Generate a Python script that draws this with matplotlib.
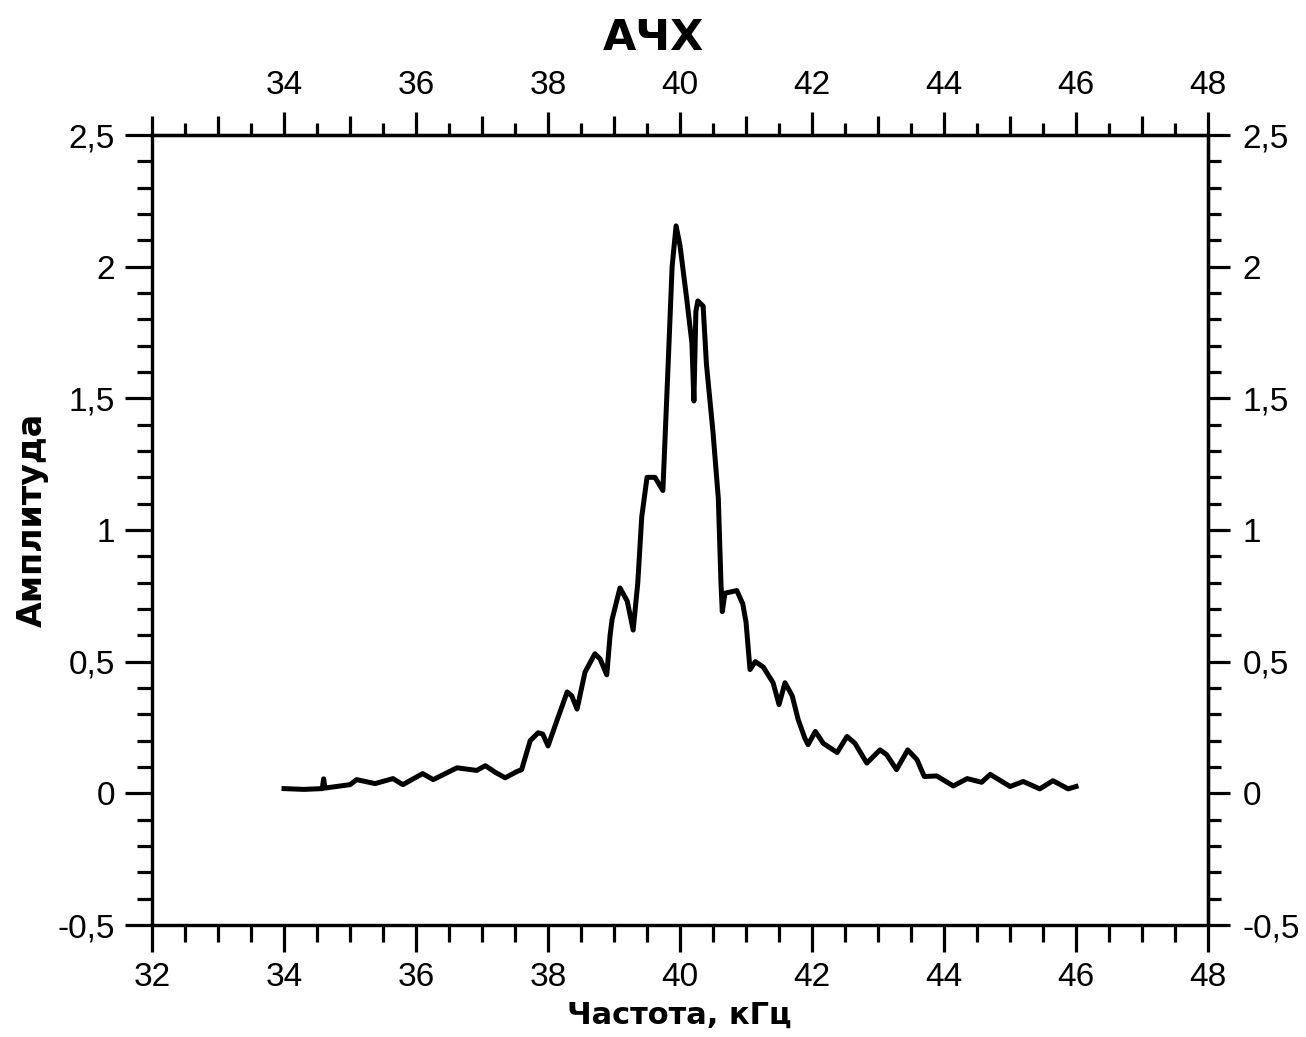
import matplotlib.pyplot as plt
from matplotlib.ticker import MultipleLocator, FixedLocator, FuncFormatter, NullFormatter

# frequency, kHz / amplitude
freq = [34.0, 34.3, 34.58, 34.6, 34.62, 35.0, 35.1, 35.38, 35.65, 35.8,
        36.1, 36.26, 36.62, 36.92, 37.05, 37.2, 37.35, 37.53, 37.6, 37.73,
        37.85, 37.92, 38.0, 38.14, 38.29, 38.36, 38.44, 38.56, 38.71, 38.79,
        38.89, 38.94, 38.97, 39.09, 39.2, 39.29, 39.36, 39.42, 39.5, 39.62,
        39.74, 39.82, 39.88, 39.94, 40.0, 40.1, 40.18, 40.21, 40.24, 40.27,
        40.35, 40.4, 40.5, 40.58, 40.62, 40.64, 40.68, 40.86, 40.95, 41.0,
        41.06, 41.14, 41.26, 41.41, 41.5, 41.59, 41.7, 41.79, 41.89, 41.94,
        42.05, 42.17, 42.38, 42.53, 42.65, 42.83, 43.03, 43.13, 43.28, 43.45,
        43.59, 43.7, 43.89, 44.14, 44.35, 44.57, 44.7, 45.0, 45.2, 45.45,
        45.65, 45.88, 46.0]
amp = [0.018, 0.015, 0.018, 0.055, 0.02, 0.033, 0.052, 0.037, 0.056, 0.033,
       0.075, 0.052, 0.097, 0.087, 0.105, 0.08, 0.059, 0.083, 0.09, 0.20,
       0.23, 0.225, 0.18, 0.28, 0.385, 0.37, 0.32, 0.46, 0.53, 0.51,
       0.45, 0.60, 0.66, 0.78, 0.73, 0.62, 0.80, 1.05, 1.20, 1.20,
       1.15, 1.63, 2.0, 2.155, 2.08, 1.88, 1.71, 1.49, 1.83, 1.87,
       1.85, 1.63, 1.37, 1.12, 0.80, 0.69, 0.76, 0.77, 0.72, 0.65,
       0.47, 0.50, 0.48, 0.42, 0.337, 0.42, 0.37, 0.28, 0.21, 0.185,
       0.235, 0.19, 0.155, 0.216, 0.19, 0.115, 0.165, 0.147, 0.09, 0.165,
       0.128, 0.064, 0.066, 0.028, 0.056, 0.042, 0.072, 0.026, 0.045, 0.017,
       0.048, 0.017, 0.026]

x_top_labels = [34, 36, 38, 40, 42, 44, 46, 48]

tick_font = ['Liberation Sans', 'DejaVu Sans']
label_font = ['DejaVu Sans']
TS = 24


def comma(v, pos):
    s = '%g' % v
    return s.replace('.', ',')


fig = plt.figure(figsize=(13.06, 10.37), dpi=100)
ax = fig.add_axes([0.1164, 0.108, 0.8086, 0.7618])

ax.plot(freq, amp, color='black', lw=3.6, solid_joinstyle='round')
ax.set_xlim(32, 48)
ax.set_ylim(-0.5, 2.5)

for s in ax.spines.values():
    s.set_linewidth(2.3)

# bottom / left
ax.xaxis.set_major_locator(MultipleLocator(2))
ax.xaxis.set_minor_locator(MultipleLocator(0.5))
ax.yaxis.set_major_locator(MultipleLocator(0.5))
ax.yaxis.set_minor_locator(MultipleLocator(0.1))
ax.xaxis.set_major_formatter(FuncFormatter(comma))
ax.yaxis.set_major_formatter(FuncFormatter(comma))
ax.tick_params(axis='x', which='major', direction='out', length=19.5, width=2.3,
               pad=7, labelsize=TS)
ax.tick_params(axis='x', which='minor', direction='out', length=12, width=2.3)
ax.tick_params(axis='y', which='major', direction='out', length=19.5, width=2.3,
               pad=7, labelsize=TS)
ax.tick_params(axis='y', which='minor', direction='out', length=11, width=2.3)

# top: labelled majors and medium ticks at odd integers
ax_top = ax.twiny()
ax_top.set_xlim(32, 48)
ax_top.xaxis.set_major_locator(FixedLocator(x_top_labels))
ax_top.xaxis.set_minor_locator(MultipleLocator(1))
ax_top.xaxis.set_major_formatter(FuncFormatter(comma))
ax_top.xaxis.set_minor_formatter(NullFormatter())
ax_top.tick_params(axis='x', which='major', direction='out', length=16.5, width=2.3,
                   pad=8, labelsize=TS)
ax_top.tick_params(axis='x', which='minor', direction='out', length=13.5, width=2.3)
for s in ax_top.spines.values():
    s.set_linewidth(2.3)

# top: short ticks at halves
ax_half = ax.secondary_xaxis('top')
ax_half.xaxis.set_major_locator(FixedLocator([32.5 + i for i in range(16)]))
ax_half.xaxis.set_major_formatter(NullFormatter())
ax_half.tick_params(axis='x', which='major', direction='out', length=8.6, width=2.3)
ax_half.spines['top'].set_linewidth(2.3)

# right
ax_r = ax.secondary_yaxis('right')
ax_r.yaxis.set_major_locator(MultipleLocator(0.5))
ax_r.yaxis.set_minor_locator(MultipleLocator(0.1))
ax_r.yaxis.set_major_formatter(FuncFormatter(comma))
ax_r.tick_params(axis='y', which='major', direction='out', length=16, width=2.3,
                 pad=9, labelsize=TS)
ax_r.tick_params(axis='y', which='minor', direction='out', length=9.4, width=2.3)
ax_r.spines['right'].set_linewidth(2.3)

for a in (ax, ax_top, ax_r):
    for lab in a.get_xticklabels() + a.get_yticklabels():
        lab.set_family(tick_font)

fig.text(0.5, 0.963, 'АЧХ', ha='center', va='center', fontsize=31,
         fontweight='bold', family=label_font)
fig.text(0.5205, 0.021, 'Частота, кГц', ha='center', va='center', fontsize=22,
         fontweight='bold', family=label_font)
fig.text(0.0245, 0.4986, 'Амплитуда', ha='center', va='center', fontsize=24,
         fontweight='bold', rotation=90, family=label_font)

fig.savefig('out.png', dpi=100)
